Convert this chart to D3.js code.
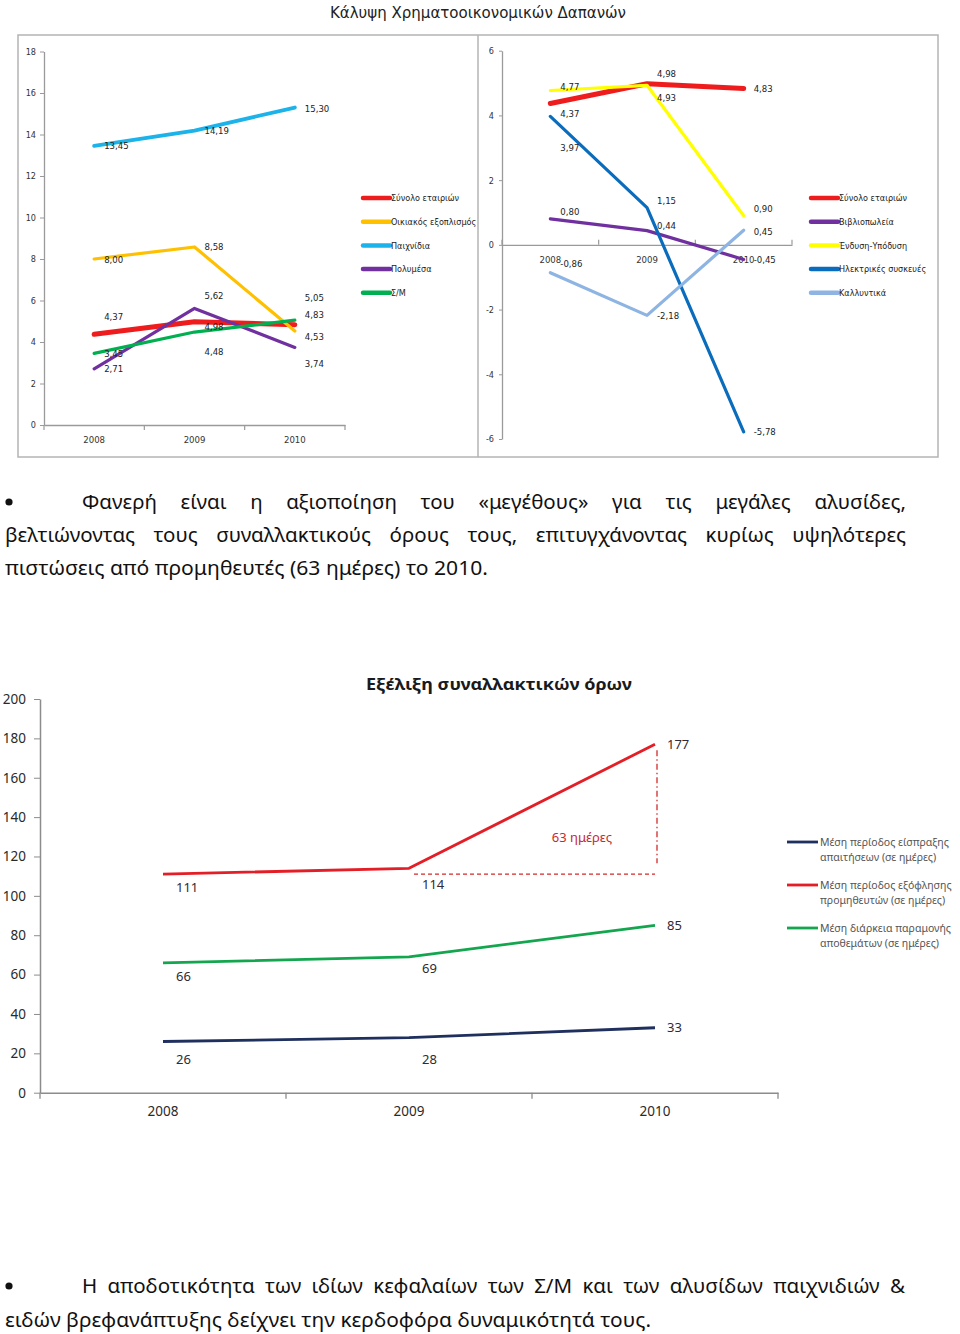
<!DOCTYPE html>
<html><head><meta charset="utf-8">
<script src="https://cdn.jsdelivr.net/npm/d3@7"></script>
<style>html,body{margin:0;padding:0;background:#fff}</style>
</head><body><svg id="c" width="960" height="1334"></svg>
<script>
// ---------------- DATA ----------------
const years = ["2008", "2009", "2010"];

// Top-left panel
const leftNames = ["Σύνολο εταιριών", "Οικιακός εξοπλισμός", "Παιχνίδια", "Πολυμέσα", "Σ/Μ"];
const leftTotal = [4.37, 4.98, 4.83];
const leftHome = [8.00, 8.58, 4.53];
const leftToys = [13.45, 14.19, 15.30];
const leftMedia = [2.71, 5.62, 3.74];
const leftSM = [3.45, 4.48, 5.05];
const leftTicks = [0, 2, 4, 6, 8, 10, 12, 14, 16, 18];

// Top-right panel
const rightNames = ["Σύνολο εταιριών", "Βιβλιοπωλεία", "Ένδυση-Υπόδυση", "Ηλεκτρικές συσκευές", "Καλλυντικά"];
const rightTotal = [4.37, 4.98, 4.83];
const rightBooks = [0.80, 0.44, -0.45];
const rightClothing = [4.77, 4.93, 0.90];
const rightElectric = [3.97, 1.15, -5.78];
const rightCosmetics = [-0.86, -2.18, 0.45];
const rightTicks = [-6, -4, -2, 0, 2, 4, 6];

// Bottom chart
const bottomNames = [
  ["Μέση περίοδος είσπραξης", "απαιτήσεων (σε ημέρες)"],
  ["Μέση περίοδος εξόφλησης", "προμηθευτών (σε ημέρες)"],
  ["Μέση διάρκεια παραμονής", "αποθεμάτων (σε ημέρες)"]
];
const receivables = [26, 28, 33];
const payables = [111, 114, 177];
const inventory = [66, 69, 85];
const bottomTicks = [0, 20, 40, 60, 80, 100, 120, 140, 160, 180, 200];
const annotationText = "63 ημέρες";
const annotationBase = 111;

// ---------------- STYLE / LAYOUT ----------------
const leftColors = ["#ee1c1c", "#ffc000", "#1cb2ea", "#7030a0", "#00b050"];
const leftWidths = [5, 3.2, 3.8, 3.2, 3.2];
const rightColors = ["#ee1c1c", "#7030a0", "#ffff00", "#0a6cbc", "#8db4e2"];
const rightWidths = [5, 3.2, 3.2, 3.2, 3.2];
const bottomColors = ["#1f2f5e", "#e41e26", "#14a64e"];
// label nudges (px) to mimic the original label placement
const leftLabelDy = [[-18, 5, -10], [1, 0, 6], [0, 0, 1], [0, -13, 16], [0, 20, -23]];
const rightLabelDy = [[10, -10, 0], [-7, -5, 0], [-4, 12, -7], [31, -7, 0], [-9, 0, 1]];
const bottomLabelDy = [[18, 22, 0], [13, 16, 0], [14, 12, 0]];

const COND = "'Liberation Sans Narrow','DejaVu Sans Condensed','Roboto Condensed','Liberation Sans',sans-serif";
const BODY = "'Noto Sans','Open Sans',sans-serif";

const svg = d3.select("#c");
svg.append("rect").attr("width", 960).attr("height", 1334).attr("fill", "#fff");

const fmt = v => v.toFixed(2).replace(".", ",");

// ---------------- TOP TITLE + FRAME ----------------
svg.append("text").attr("x", 478).attr("y", 18).attr("text-anchor", "middle")
  .attr("font-family", COND).attr("font-size", 16).attr("fill", "#222")
  .attr("textLength", 296).attr("lengthAdjust", "spacingAndGlyphs")
  .text("Κάλυψη Χρηματοοικονομικών Δαπανών");

svg.append("rect").attr("x", 18).attr("y", 35).attr("width", 920).attr("height", 422)
  .attr("fill", "none").attr("stroke", "#b4b4b4").attr("stroke-width", 1.5);
svg.append("line").attr("x1", 478).attr("x2", 478).attr("y1", 35).attr("y2", 457)
  .attr("stroke", "#b4b4b4").attr("stroke-width", 1.5);

svg.append("defs").append("clipPath").attr("id", "clipL")
  .append("rect").attr("x", 19).attr("y", 36).attr("width", 458).attr("height", 420);

function lineChart(g, cfg) {
  const x = d3.scaleBand().domain(years).range(cfg.xRange).padding(0);
  const cx = d => x(d) + x.bandwidth() / 2;
  const y = d3.scaleLinear().domain(cfg.yDomain).range(cfg.yRange);

  // y axis
  const ya = g.append("g").attr("transform", `translate(${cfg.xRange[0]},0)`)
    .call(d3.axisLeft(y).tickValues(cfg.ticks).tickSize(cfg.yTickSize).tickSizeOuter(0)
      .tickPadding(cfg.yTickPad).tickFormat(d => String(d)));
  ya.select(".domain").attr("stroke", "#9a9a9a").attr("stroke-width", 1.3);
  ya.selectAll(".tick line").attr("stroke", "#9a9a9a");
  ya.selectAll(".tick text").attr("font-family", COND).attr("font-size", 9).attr("fill", "#333");

  // x axis
  const y0 = y(cfg.xAxisAt);
  const xa = g.append("g").attr("transform", `translate(0,${y0})`)
    .call(d3.axisBottom(x).tickSize(0).tickPadding(cfg.xLabelPad));
  xa.select(".domain").attr("stroke", "#9a9a9a").attr("stroke-width", 1.3);
  xa.selectAll(".tick text").attr("font-family", COND).attr("font-size", 9.5).attr("fill", "#333");
  const bounds = years.map(d => x(d)).concat([x(years[years.length - 1]) + x.bandwidth()]);
  g.selectAll("line.xb").data(bounds).join("line").attr("class", "xb")
    .attr("x1", d => d).attr("x2", d => d)
    .attr("y1", y0).attr("y2", y0 + cfg.xTickDir * 5)
    .attr("stroke", "#9a9a9a").attr("stroke-width", 1.2);

  const line = d3.line().x((d, i) => cx(years[i])).y(d => y(d));
  cfg.series.forEach((s, si) => {
    g.append("path").datum(s).attr("d", line).attr("fill", "none")
      .attr("stroke", cfg.colors[si]).attr("stroke-width", cfg.widths[si])
      .attr("stroke-linejoin", "round").attr("stroke-linecap", "round");
  });
  cfg.series.forEach((s, si) => {
    g.selectAll(null).data(s).join("text")
      .attr("x", (d, i) => cx(years[i]) + 10)
      .attr("y", (d, i) => y(d) + cfg.labelDy[si][i])
      .attr("dy", "0.35em")
      .attr("font-family", COND).attr("font-size", 9.5).attr("fill", "#222")
      .text(d => fmt(d));
  });

  // legend
  const lg = g.append("g");
  cfg.names.forEach((n, i) => {
    const ly = 198 + i * 23.7;
    lg.append("line").attr("x1", cfg.legendX).attr("x2", cfg.legendX + 27)
      .attr("y1", ly).attr("y2", ly).attr("stroke", cfg.colors[i]).attr("stroke-width", 4.5)
      .attr("stroke-linecap", "round");
    lg.append("text").attr("x", cfg.legendX + 28).attr("y", ly).attr("dy", "0.35em")
      .attr("font-family", COND).attr("font-size", 9).attr("fill", "#222").text(n);
  });
}

lineChart(svg.append("g").attr("clip-path", "url(#clipL)"), {
  xRange: [44, 345], yDomain: [0, 18], yRange: [425, 51.5], ticks: leftTicks,
  yTickSize: 4, yTickPad: 4, xAxisAt: 0, xLabelPad: 11, xTickDir: 1,
  series: [leftTotal, leftHome, leftToys, leftMedia, leftSM],
  colors: leftColors, widths: leftWidths, names: leftNames, labelDy: leftLabelDy, legendX: 363
});

lineChart(svg.append("g"), {
  xRange: [502, 792], yDomain: [-6, 6], yRange: [439, 50.7], ticks: rightTicks,
  yTickSize: 3, yTickPad: 5, xAxisAt: 0, xLabelPad: 11, xTickDir: -1,
  series: [rightTotal, rightBooks, rightClothing, rightElectric, rightCosmetics],
  colors: rightColors, widths: rightWidths, names: rightNames, labelDy: rightLabelDy, legendX: 811
});

// ---------------- PARAGRAPHS ----------------
function paragraph(lines, fs) {
  lines.forEach(l => {
    if (l.justify) {
      const words = l.text.split(" ");
      const nodes = words.map(w => svg.append("text").attr("y", l.y)
        .attr("font-family", BODY).attr("font-size", fs).attr("fill", "#111").text(w));
      const widths = nodes.map(n => n.node().getComputedTextLength());
      const gap = (l.x1 - l.x0 - d3.sum(widths)) / (words.length - 1);
      let xx = l.x0;
      nodes.forEach((n, i) => { n.attr("x", xx); xx += widths[i] + gap; });
    } else {
      svg.append("text").attr("x", l.x0).attr("y", l.y)
        .attr("font-family", BODY).attr("font-size", fs).attr("fill", "#111")
        .attr("textLength", l.x1 - l.x0).attr("lengthAdjust", "spacingAndGlyphs").text(l.text);
    }
  });
}
svg.append("circle").attr("cx", 9).attr("cy", 502).attr("r", 3.6).attr("fill", "#111");
paragraph([
  { text: "Φανερή είναι η αξιοποίηση του «μεγέθους» για τις μεγάλες αλυσίδες,", x0: 82, x1: 906, y: 509, justify: true },
  { text: "βελτιώνοντας τους συναλλακτικούς όρους τους, επιτυγχάνοντας κυρίως υψηλότερες", x0: 5, x1: 906, y: 542, justify: true },
  { text: "πιστώσεις από προμηθευτές (63 ημέρες) το 2010.", x0: 5, x1: 488, y: 575, justify: false }
], 20.5);

svg.append("circle").attr("cx", 9).attr("cy", 1286).attr("r", 3.6).attr("fill", "#111");
paragraph([
  { text: "Η αποδοτικότητα των ιδίων κεφαλαίων των Σ/Μ και των αλυσίδων παιχνιδιών &", x0: 82, x1: 905, y: 1293, justify: true },
  { text: "ειδών βρεφανάπτυξης δείχνει την κερδοφόρα δυναμικότητά τους.", x0: 5, x1: 651, y: 1327, justify: false }
], 20.5);

// ---------------- BOTTOM CHART ----------------
(function () {
  const g = svg.append("g");
  const x = d3.scaleBand().domain(years).range([40, 778]).padding(0);
  const cx = d => x(d) + x.bandwidth() / 2;
  const y = d3.scaleLinear().domain([0, 200]).range([1092.7, 699]);

  g.append("text").attr("x", 499).attr("y", 690).attr("text-anchor", "middle")
    .attr("font-family", BODY).attr("font-weight", "bold").attr("font-size", 16.5).attr("fill", "#1a1a1a")
    .attr("textLength", 266).attr("lengthAdjust", "spacingAndGlyphs")
    .text("Εξέλιξη συναλλακτικών όρων");

  const ya = g.append("g").attr("transform", "translate(40,0)")
    .call(d3.axisLeft(y).tickValues(bottomTicks).tickSize(6).tickSizeOuter(0).tickPadding(8));
  ya.select(".domain").attr("stroke", "#8c8c8c").attr("stroke-width", 1.5);
  ya.selectAll(".tick line").attr("stroke", "#8c8c8c");
  ya.selectAll(".tick text").attr("font-family", BODY).attr("font-size", 13.5).attr("fill", "#2a2a2a");

  const xa = g.append("g").attr("transform", `translate(0,${y(0)})`)
    .call(d3.axisBottom(x).tickSize(0).tickPadding(14));
  xa.select(".domain").attr("stroke", "#8c8c8c").attr("stroke-width", 1.5);
  xa.selectAll(".tick text").attr("font-family", BODY).attr("font-size", 13.5).attr("fill", "#2a2a2a");
  const bounds = years.map(d => x(d)).concat([x(years[2]) + x.bandwidth()]);
  g.selectAll("line.xb").data(bounds).join("line")
    .attr("x1", d => d).attr("x2", d => d).attr("y1", y(0)).attr("y2", y(0) + 6)
    .attr("stroke", "#8c8c8c").attr("stroke-width", 1.3);

  // annotation
  const last = years.length - 1;
  g.append("line").attr("x1", cx(years[1]) + 5).attr("x2", cx(years[last]))
    .attr("y1", y(annotationBase)).attr("y2", y(annotationBase))
    .attr("stroke", "#d42a2a").attr("stroke-width", 1.3).attr("stroke-dasharray", "4,3");
  g.append("line").attr("x1", cx(years[last]) + 2).attr("x2", cx(years[last]) + 2)
    .attr("y1", y(payables[last]) + 6).attr("y2", y(annotationBase) - 11)
    .attr("stroke", "#d42a2a").attr("stroke-width", 1.3).attr("stroke-dasharray", "6,3,1.5,3");
  g.append("text").attr("x", 582).attr("y", 837).attr("dy", "0.35em").attr("text-anchor", "middle")
    .attr("font-family", BODY).attr("font-size", 13).attr("fill", "#c8282c").text(annotationText);

  const series = [receivables, payables, inventory];
  const line = d3.line().x((d, i) => cx(years[i])).y(d => y(d));
  series.forEach((s, si) => {
    g.append("path").datum(s).attr("d", line).attr("fill", "none")
      .attr("stroke", bottomColors[si]).attr("stroke-width", 2.8).attr("stroke-linejoin", "round");
    g.selectAll(null).data(s).join("text")
      .attr("x", (d, i) => cx(years[i]) + (i === last ? 12 : 13))
      .attr("y", (d, i) => y(d) + bottomLabelDy[si][i])
      .attr("dy", "0.35em")
      .attr("font-family", BODY).attr("font-size", 13).attr("fill", "#2e2a36")
      .text(d => String(d));
  });

  bottomNames.forEach((n, i) => {
    const ly = 842 + i * 43;
    g.append("line").attr("x1", 787).attr("x2", 818).attr("y1", ly).attr("y2", ly)
      .attr("stroke", bottomColors[i]).attr("stroke-width", 2.8);
    n.forEach((t, j) => {
      g.append("text").attr("x", 820).attr("y", ly + j * 15).attr("dy", "0.35em")
        .attr("font-family", BODY).attr("font-size", 10.5).attr("fill", "#555").text(t);
    });
  });
})();
</script></body></html>
